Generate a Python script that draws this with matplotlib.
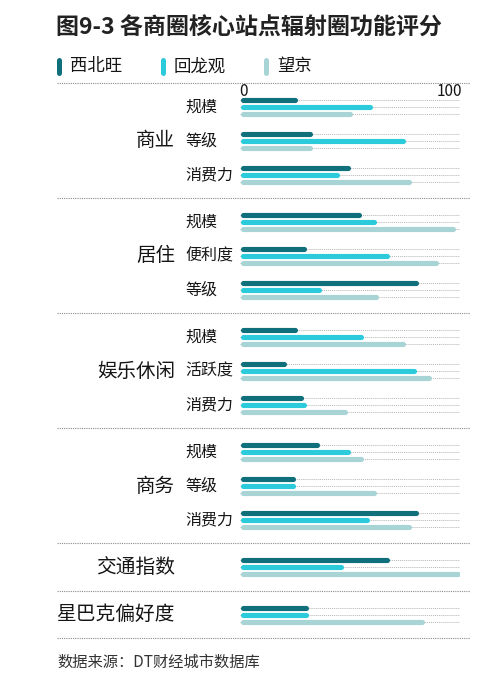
import matplotlib
matplotlib.use("Agg")
import matplotlib.pyplot as plt

plt.rcParams['font.family'] = ['Noto Sans CJK SC', 'DejaVu Sans']

# data
series = ["西北旺", "回龙观", "望京"]
colors = ["#0f6f7b", "#2bcbdb", "#a9d4d6"]

groups = ["商业", "居住", "娱乐休闲", "商务", "交通指数", "星巴克偏好度"]
subs = [
    ["规模", "等级", "消费力"],
    ["规模", "便利度", "等级"],
    ["规模", "活跃度", "消费力"],
    ["规模", "等级", "消费力"],
    [""],
    [""],
]
xibeiwang = [26, 33, 50, 55, 30, 81, 26, 21, 29, 36, 25, 81, 68, 31]
huilongguan = [60, 75, 45, 62, 68, 37, 56, 80, 30, 50, 25, 59, 47, 31]
wangjing = [51, 33, 78, 98, 90, 63, 75, 87, 49, 56, 62, 78, 100, 84]
values = [xibeiwang, huilongguan, wangjing]

W, H = 487, 686
fig = plt.figure(figsize=(W / 100, H / 100), dpi=100)
fig.patch.set_facecolor("white")

# pixel-space axes for text and separators
ax = fig.add_axes([0, 0, 1, 1])
ax.set_xlim(0, W)
ax.set_ylim(H, 0)
ax.axis("off")

# bar axes: 0 at x=240px, 100 at x=460px
bx = fig.add_axes([240 / W, 0, 220 / W, 1])
bx.set_xlim(0, 100)
bx.set_ylim(H, 0)
bx.axis("off")
bx.patch.set_alpha(0)

txt = "#151515"
sep_kw = dict(color="#8a8a8a", lw=0.8, ls=(0, (1, 1)))

ax.text(56, 28, "图9-3 各商圈核心站点辐射圈功能评分", fontsize=16.6,
        fontweight="bold", color="#222222", va="center", ha="left")

# legend
leg_x = [59, 163, 266]
for name, c, lx in zip(series, colors, leg_x):
    ax.plot([lx, lx], [60, 73], color=c, lw=3.6, solid_capstyle="round")
    ax.text(lx + 11, 66.5, name, fontsize=12.5, color=txt, va="center", ha="left")

ax.plot([57, 470], [83, 83], **sep_kw)
ax.text(239, 91, "0", fontsize=11, color=txt, va="center", ha="left")
ax.text(462, 91, "100", fontsize=11, color=txt, va="center", ha="right")

# rows
y = 107
sub_step, group_step = 33.8, 47.5
bar_gap = 7
cap = 2.5 / 2.2  # round cap radius in data units
idx = 0
for g, sl in zip(groups, subs):
    ys = []
    for s in sl:
        ys.append(y)
        if s:
            ax.text(185, y, s, fontsize=11.5, color=txt, va="center", ha="left")
        for k in range(3):
            yy = y + (k - 1) * bar_gap
            v = values[k][idx]
            bx.plot([0, 100], [yy, yy], color="#b5b5b5", lw=0.7, ls=(0, (1, 1)),
                    zorder=1)
            bx.plot([cap, v - cap], [yy, yy], color=colors[k], lw=3.7,
                    solid_capstyle="round", zorder=2)
        idx += 1
        y += sub_step
    y -= sub_step
    gy = (ys[0] + ys[-1]) / 2
    big = len(sl) == 1
    ax.text(175, gy, g, fontsize=14.2 if big else 14, color=txt,
            va="center", ha="right")
    sy = y + 23.3
    ax.plot([57, 470], [sy, sy], **sep_kw)
    y += group_step

ax.text(57, 662, "数据来源：DT财经城市数据库", fontsize=11, color="#333333",
        va="center", ha="left")

fig.savefig("out.png", dpi=100, facecolor="white")
